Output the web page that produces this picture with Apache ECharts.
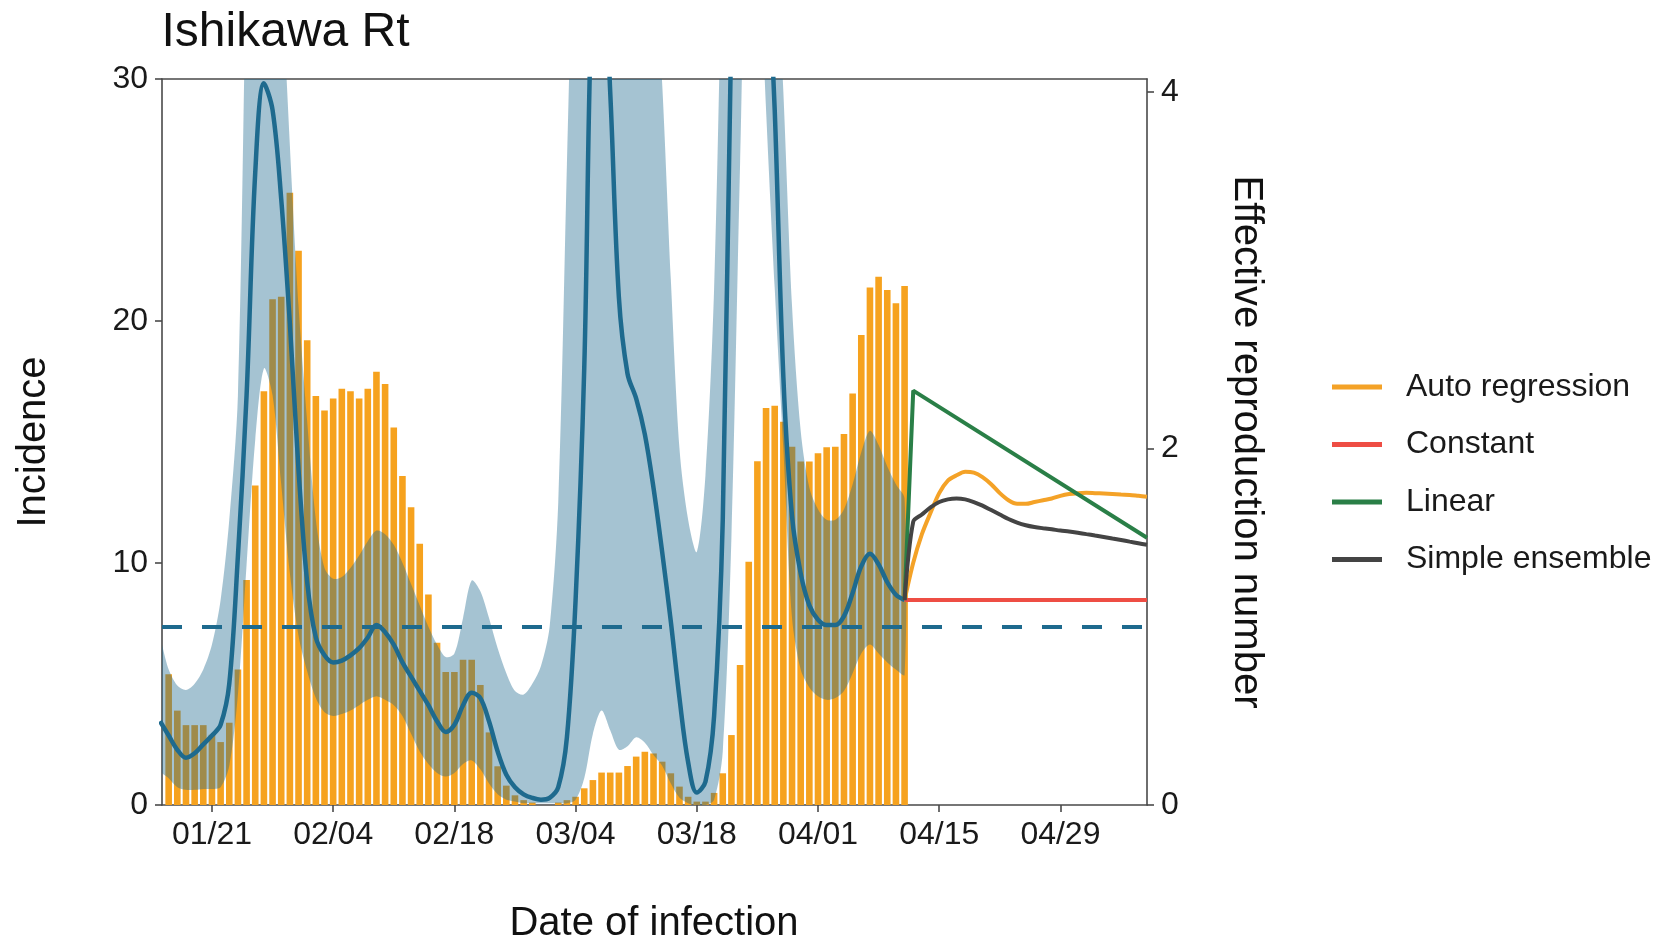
<!DOCTYPE html>
<html>
<head>
<meta charset="utf-8">
<script src="https://cdn.jsdelivr.net/npm/echarts@6/dist/echarts.min.js"></script>
<style>
html,body{margin:0;padding:0;background:#ffffff;}
#chart{width:1660px;height:941px;}
</style>
</head>
<body>
<div id="chart"></div>
<script>
// ---------------- data ----------------
const YEAR = 2022;
const ORIGIN_DATE = '01/21';           // day 0 of the x scale

const tickLabels = ['01/21','02/04','02/18','03/04','03/18','04/01','04/15','04/29'];
const rtTicks = [0, 2, 4];

// daily incidence, starting 01/16
const incidenceFirstDate = '01/16';
const incidence = [5.4, 3.9, 3.3, 3.3, 3.3, 2.9, 2.6, 3.4, 5.6, 9.3,
  13.2, 17.1, 20.9, 21.0, 25.3, 22.9, 19.2, 16.9, 16.3, 16.8,
  17.2, 17.1, 16.8, 17.2, 17.9, 17.4, 15.6, 13.6, 12.3, 10.8,
  8.7, 6.7, 5.5, 5.5, 6.0, 6.0, 4.96, 3.0, 1.6, 0.8,
  0.4, 0.2, 0.1, 0, 0, 0.1, 0.2, 0.34, 0.69, 1.03,
  1.34, 1.34, 1.34, 1.61, 2.0, 2.2, 2.13, 1.79, 1.31, 0.76,
  0.34, 0.14, 0.14, 0.5, 1.31, 2.89, 5.79, 10.05, 14.2, 16.4,
  16.5, 15.84, 14.8, 14.19, 14.19, 14.53, 14.78, 14.8, 15.33, 17.0,
  19.42, 21.38, 21.83, 21.28, 20.73, 21.45];

// daily effective reproduction number, starting 01/15
const rtFirstDate = '01/15';
const rtMedian = [0.47, 0.39, 0.31, 0.265, 0.29, 0.34, 0.39,
  0.45, 0.68, 1.4, 2.3, 3.55, 4.05, 3.9, 3.4, 2.7, 1.88,
  1.25, 0.94, 0.84, 0.8, 0.81, 0.84, 0.88, 0.94, 1.01, 0.97,
  0.9, 0.8, 0.72, 0.64, 0.56, 0.47, 0.41, 0.45, 0.56, 0.63,
  0.6, 0.47, 0.3, 0.17, 0.1, 0.06, 0.04, 0.03, 0.04, 0.1,
  0.38, 1.15, 2.45, 4.7, 4.9, 4.0, 2.85, 2.42, 2.28, 2.08,
  1.78, 1.42, 1.03, 0.6, 0.24, 0.07, 0.13, 0.5, 1.6, 4.4,
  6.0, 6.5, 6.2, 5.0, 3.9, 2.4, 1.62, 1.3, 1.12, 1.04,
  1.01, 1.01, 1.06, 1.19, 1.34, 1.41, 1.35, 1.25, 1.18, 1.15];
const rtLower = [0.2, 0.15, 0.1, 0.085, 0.085, 0.09, 0.09,
  0.1, 0.22, 0.62, 1.35, 2.05, 2.45, 2.3, 1.8, 1.3, 0.95,
  0.75, 0.6, 0.52, 0.5, 0.51, 0.53, 0.56, 0.59, 0.61, 0.59,
  0.56, 0.5, 0.4, 0.3, 0.23, 0.18, 0.16, 0.18, 0.23, 0.25,
  0.2, 0.12, 0.06, 0.03, 0.02, 0.01, 0.01, 0.01, 0.01, 0.01,
  0.01, 0.03, 0.15, 0.4, 0.53, 0.42, 0.31, 0.33, 0.38, 0.35,
  0.28, 0.22, 0.12, 0.04, 0.01, 0, 0, 0.03, 0.3, 1.5,
  3.6, 5.5, 5.0, 3.9, 2.9, 2.0, 1.05, 0.76, 0.66, 0.61,
  0.59, 0.6, 0.64, 0.74, 0.85, 0.9, 0.85, 0.8, 0.76, 0.73];
const rtUpper = [0.92, 0.76, 0.67, 0.645, 0.68, 0.76, 0.9,
  1.15, 1.6, 2.3, 4.8, 6.5, 7.5, 7.0, 4.8, 3.7, 2.8,
  2.15, 1.6, 1.33, 1.27, 1.28, 1.33, 1.4, 1.48, 1.54, 1.52,
  1.46, 1.36, 1.24, 1.12, 1.0, 0.9, 0.83, 0.85, 1.05, 1.26,
  1.2, 1.05, 0.88, 0.74, 0.64, 0.62, 0.68, 0.78, 1.0, 1.7,
  3.6, 5.5, 7, 8, 8, 7.5, 7, 6.5, 6, 5.5,
  4.8, 4.05, 2.95, 2.0, 1.6, 1.42, 1.85, 2.9, 5.0, 7,
  8, 8, 8, 7, 5.0, 4.0, 2.8, 2.1, 1.78, 1.66,
  1.6, 1.6, 1.66, 1.8, 1.98, 2.1, 2.02, 1.9, 1.8, 1.72];
const rtThreshold = 1;

// projections, daily from 04/11
const projFirstDate = '04/11';
const autoRegression = [1.15, 1.36, 1.52, 1.64, 1.75, 1.82, 1.85, 1.87, 1.865, 1.84,
  1.8, 1.75, 1.71, 1.69, 1.69, 1.7, 1.71, 1.72, 1.735, 1.745,
  1.75, 1.752, 1.75, 1.748, 1.745, 1.742, 1.74, 1.735, 1.73];
const simpleEnsemble = [1.15, 1.59, 1.63, 1.67, 1.7, 1.715, 1.72, 1.715, 1.7, 1.68,
  1.655, 1.63, 1.605, 1.585, 1.57, 1.56, 1.553, 1.547, 1.54, 1.535,
  1.528, 1.52, 1.512, 1.504, 1.495, 1.487, 1.478, 1.469, 1.46];
const linearDates = ['04/11', '04/12', '05/09'];
const linearValues = [1.15, 2.325, 1.50];
const constantDates = ['04/11', '05/09'];
const constantValues = [1.15, 1.15];

const legendNames = ['Auto regression', 'Constant', 'Linear', 'Simple ensemble'];

// ---------------- helpers ----------------
function dayOf(mmdd) {
  const p = mmdd.split('/').map(Number);
  const o = ORIGIN_DATE.split('/').map(Number);
  return Math.round((Date.UTC(YEAR, p[0] - 1, p[1]) - Date.UTC(YEAR, o[0] - 1, o[1])) / 86400000);
}
const seq = (first, arr) => arr.map((v, i) => [dayOf(first) + i, v]);

const tickDays = tickLabels.map(dayOf);
const labelByDay = {};
tickDays.forEach((d, i) => { labelByDay[d] = tickLabels[i]; });

const barData = seq(incidenceFirstDate, incidence);
const rtData = seq(rtFirstDate, rtMedian);
const ribbonData = rtMedian.map((_, i) => [dayOf(rtFirstDate) + i, rtLower[i], rtUpper[i]]);
const arData = seq(projFirstDate, autoRegression);
const ensData = seq(projFirstDate, simpleEnsemble);
const linData = linearDates.map((d, i) => [dayOf(d), linearValues[i]]);
const conData = constantDates.map((d, i) => [dayOf(d), constantValues[i]]);

// ---------------- style ----------------
const FONT = "'Liberation Sans', Arial, Helvetica, sans-serif";
const AXIS = '#4a4a4a';
const TXT = '#1a1a1a';
const BAR = '#F6A21E';
const RT = '#1E6A8E';
const C_AR = '#F4A227';
const C_CON = '#EE4D44';
const C_LIN = '#2A7F47';
const C_ENS = '#444444';
const X_MIN = -5.77, X_MAX = 108;
const RT_MAX = 4.074;

const chart = echarts.init(document.getElementById('chart'), null, {renderer: 'canvas'});

const axisLineStyle = {color: AXIS, width: 1.6};

function renderRibbon(params, api) {
  if (params.dataIndex !== 0) return null;
  const pts = [];
  for (let i = 0; i < ribbonData.length; i++) pts.push(api.coord([ribbonData[i][0], ribbonData[i][2]]));
  for (let i = ribbonData.length - 1; i >= 0; i--) pts.push(api.coord([ribbonData[i][0], ribbonData[i][1]]));
  return {
    type: 'polygon',
    shape: {points: pts, smooth: 0.3},
    style: {fill: RT, opacity: 0.4}
  };
}

const option = {
  animation: false,
  backgroundColor: '#ffffff',
  textStyle: {fontFamily: FONT},
  grid: {left: 162, right: 513, top: 79, bottom: 136, containLabel: false},
  xAxis: [{
    type: 'value', min: X_MIN, max: X_MAX, position: 'bottom',
    axisLine: {show: true, onZero: false, lineStyle: axisLineStyle},
    axisTick: {show: true, length: 7, lineStyle: axisLineStyle, customValues: tickDays},
    axisLabel: {customValues: tickDays, formatter: v => labelByDay[Math.round(v)] || '',
      fontSize: 32, color: TXT, margin: 14, fontFamily: FONT},
    splitLine: {show: false}
  }, {
    type: 'value', min: X_MIN, max: X_MAX, position: 'top',
    axisLine: {show: true, onZero: false, lineStyle: axisLineStyle},
    axisTick: {show: false}, axisLabel: {show: false}, splitLine: {show: false}
  }],
  yAxis: [{
    type: 'value', min: 0, max: 30, interval: 10, position: 'left',
    axisLine: {show: true, onZero: false, lineStyle: axisLineStyle},
    axisTick: {show: true, length: 7, lineStyle: axisLineStyle},
    axisLabel: {fontSize: 32, color: TXT, margin: 14, fontFamily: FONT},
    splitLine: {show: false}
  }, {
    type: 'value', min: 0, max: RT_MAX, position: 'right',
    axisLine: {show: true, onZero: false, lineStyle: axisLineStyle},
    axisTick: {show: true, length: 7, lineStyle: axisLineStyle, customValues: rtTicks},
    axisLabel: {customValues: rtTicks, fontSize: 32, color: TXT, margin: 14, fontFamily: FONT},
    splitLine: {show: false}
  }],
  legend: {
    data: legendNames, orient: 'vertical', left: 1332, top: 370, padding: 0,
    itemWidth: 50, itemHeight: 5, itemGap: 23.5, icon: 'rect',
    textStyle: {fontSize: 32, color: TXT, lineHeight: 34, fontFamily: FONT, padding: [0, 0, 0, 19]}
  },
  graphic: [
    {type: 'text', x: 161.5, y: 33, style: {text: 'Ishikawa Rt', fontSize: 48, fontFamily: FONT, fill: '#111',
      textAlign: 'left', align: 'left', textVerticalAlign: 'middle', verticalAlign: 'middle'}},
    {type: 'text', x: 654, y: 924, style: {text: 'Date of infection', fontSize: 40, fontFamily: FONT, fill: '#111',
      textAlign: 'center', align: 'center', textVerticalAlign: 'middle', verticalAlign: 'middle'}},
    {type: 'text', x: 34, y: 442, rotation: Math.PI / 2, style: {text: 'Incidence', fontSize: 40, fontFamily: FONT, fill: '#111',
      textAlign: 'center', align: 'center', textVerticalAlign: 'middle', verticalAlign: 'middle'}},
    {type: 'text', x: 1246, y: 442, rotation: -Math.PI / 2, style: {text: 'Effective reproduction number', fontSize: 40, fontFamily: FONT, fill: '#111',
      textAlign: 'center', align: 'center', textVerticalAlign: 'middle', verticalAlign: 'middle'}}
  ],
  series: [
    {name: 'Incidence', type: 'bar', xAxisIndex: 0, yAxisIndex: 0, data: barData,
      barWidth: 6.6, itemStyle: {color: BAR}, z: 1, silent: true},
    {name: 'ribbon', type: 'custom', xAxisIndex: 0, yAxisIndex: 1, data: ribbonData,
      renderItem: renderRibbon, clip: true, z: 2, silent: true,
      encode: {x: 0, y: [1, 2]}},
    {name: 'Rt', type: 'line', xAxisIndex: 0, yAxisIndex: 1, data: rtData,
      symbol: 'none', smooth: 0.35, lineStyle: {color: RT, width: 4.5}, itemStyle: {color: RT}, z: 3, silent: true,
      markLine: {silent: true, symbol: ['none', 'none'], label: {show: false},
        lineStyle: {color: RT, width: 4, type: [20, 20]}, data: [{yAxis: rtThreshold}]}},
    {name: 'Auto regression', type: 'line', xAxisIndex: 0, yAxisIndex: 1, data: arData,
      symbol: 'none', smooth: 0.3, lineStyle: {color: C_AR, width: 4}, itemStyle: {color: C_AR}, z: 4},
    {name: 'Constant', type: 'line', xAxisIndex: 0, yAxisIndex: 1, data: conData,
      symbol: 'none', lineStyle: {color: C_CON, width: 4}, itemStyle: {color: C_CON}, z: 4},
    {name: 'Linear', type: 'line', xAxisIndex: 0, yAxisIndex: 1, data: linData,
      symbol: 'none', lineStyle: {color: C_LIN, width: 4}, itemStyle: {color: C_LIN}, z: 4},
    {name: 'Simple ensemble', type: 'line', xAxisIndex: 0, yAxisIndex: 1, data: ensData,
      symbol: 'none', smooth: 0.3, lineStyle: {color: C_ENS, width: 4}, itemStyle: {color: C_ENS}, z: 4}
  ]
};
chart.setOption(option);
</script>
</body>
</html>
